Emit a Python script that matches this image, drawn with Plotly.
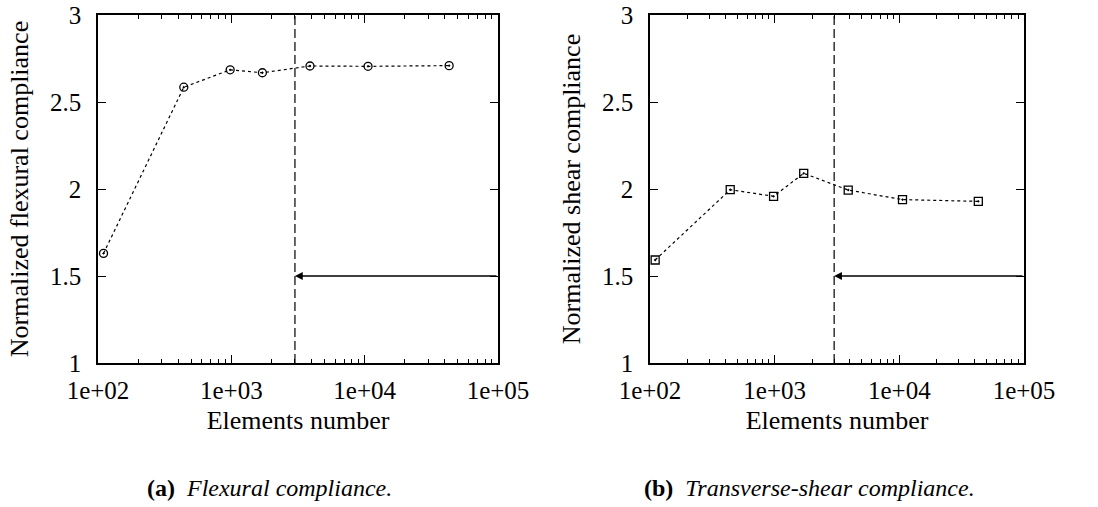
import math
import plotly.graph_objects as go

# Mesh sizes (number of elements) and normalized compliances
elements = [110, 440, 980, 1710, 3890, 10600, 43000]
flexural = [1.63, 2.585, 2.685, 2.668, 2.707, 2.705, 2.709]
shear = [1.592, 1.996, 1.958, 2.09, 1.994, 1.939, 1.929]

# Chosen mesh size and the arrow level marking it
chosen_elements = 3000
arrow_level = 1.5

x_tickvals = [1e2, 1e3, 1e4, 1e5]
x_ticktext = ["1e+02", "1e+03", "1e+04", "1e+05"]
x_minor = [m * 10 ** k for k in (2, 3, 4) for m in range(2, 10)]
y_tickvals = [1, 1.5, 2, 2.5, 3]
y_ticktext = ["1", "1.5", "2", "2.5", "3"]

FONT = "Liberation Serif, Times New Roman, serif"
W, H = 1098, 507

panels = [
    dict(y=flexural, symbol="circle-open-dot", size=8,
         ytitle="Normalized flexural compliance",
         caption="<b>(a)</b>  <i>Flexural compliance.</i>",
         xdom=(98 / W, 498 / W), cap_x=269 / W),
    dict(y=shear, symbol="square-open-dot", size=8,
         ytitle="Normalized shear compliance",
         caption="<b>(b)</b>  <i>Transverse-shear compliance.</i>",
         xdom=(650 / W, 1024 / W), cap_x=809 / W),
]

ydom = (1 - 363 / H, 1 - 15 / H)

fig = go.Figure()
annotations = []

for i, p in enumerate(panels, start=1):
    xa = "x" if i == 1 else f"x{i}"
    ya = "y" if i == 1 else f"y{i}"
    fig.add_trace(go.Scatter(
        x=elements, y=p["y"], xaxis=xa, yaxis=ya, mode="lines+markers",
        line=dict(color="black", width=1.2, dash="dot"),
        marker=dict(symbol=p["symbol"], size=p["size"], color="black",
                    line=dict(color="black", width=1.3)),
        showlegend=False, hoverinfo="skip"))
    # vertical dashed line at the chosen mesh size
    fig.add_trace(go.Scatter(
        x=[chosen_elements, chosen_elements], y=[1, 3], xaxis=xa, yaxis=ya,
        mode="lines", line=dict(color="black", width=1.2, dash="9px,4px"),
        showlegend=False, hoverinfo="skip"))
    # arrow pointing to the chosen mesh size
    annotations.append(dict(
        x=math.log10(chosen_elements), y=arrow_level,
        ax=math.log10(1e5), ay=arrow_level,
        xref=xa, yref=ya, axref=xa, ayref=ya,
        text="", showarrow=True, arrowhead=2, arrowsize=1.2,
        arrowwidth=1.3, arrowcolor="black"))

    axis_common = dict(
        showline=True, linecolor="black", linewidth=1.5, mirror="allticks",
        ticks="inside", tickcolor="black", ticklen=8, tickwidth=1,
        showgrid=False, zeroline=False, automargin=False,
        tickfont=dict(family=FONT, size=25, color="black"))
    fig.update_layout(**{
        ("xaxis" if i == 1 else f"xaxis{i}"): dict(
            axis_common, type="log", range=[2, 5], domain=p["xdom"],
            anchor=ya, tickvals=x_tickvals, ticktext=x_ticktext,
            ticklabelstandoff=4,
            minor=dict(ticks="inside", ticklen=4, tickcolor="black",
                       tickwidth=1, showgrid=False, tickvals=x_minor),
            title=dict(text="Elements number", standoff=8,
                       font=dict(family=FONT, size=26, color="black"))),
        ("yaxis" if i == 1 else f"yaxis{i}"): dict(
            axis_common, range=[1, 3], domain=ydom, anchor=xa,
            tickvals=y_tickvals, ticktext=y_ticktext,
            ticklabelstandoff=10,
            title=dict(text=p["ytitle"], standoff=14,
                       font=dict(family=FONT, size=26, color="black"))),
    })
    annotations.append(dict(
        x=p["cap_x"], y=1 - 488 / H, xref="paper", yref="paper",
        showarrow=False, text=p["caption"], xanchor="center",
        yanchor="middle", font=dict(family=FONT, size=24, color="black")))

fig.update_layout(
    width=W, height=H, margin=dict(l=0, r=0, t=0, b=0),
    paper_bgcolor="white", plot_bgcolor="white",
    font=dict(family=FONT, color="black"),
    annotations=annotations)

fig.write_html("out.html")
